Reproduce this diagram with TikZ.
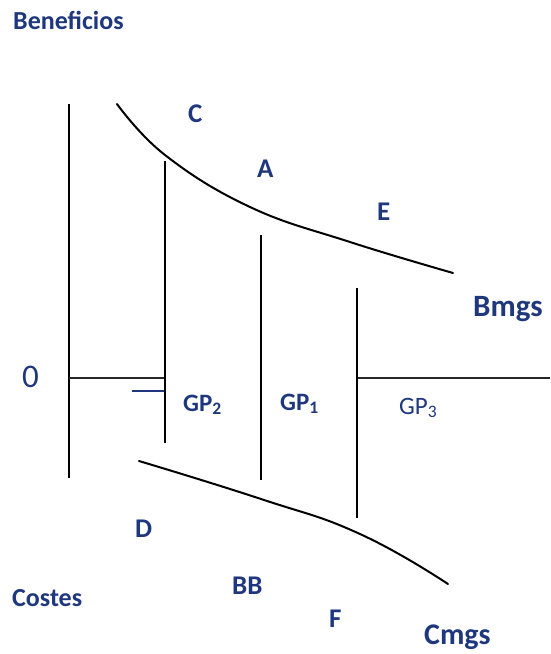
\documentclass[tikz,border=0pt]{standalone}
\usepackage{fontspec}
\setmainfont{Carlito}
\definecolor{lblue}{RGB}{30,55,125}
\begin{document}
\begin{tikzpicture}[x=1pt,y=-1pt,
  lbl/.style={anchor=base west,inner sep=0pt,text=lblue,font=\bfseries\fontsize{27}{27}\selectfont},
  lblr/.style={anchor=base west,inner sep=0pt,text=lblue,font=\fontsize{25}{25}\selectfont},
  axis/.style={line width=2pt,black},
  curve/.style={line width=2pt,black,line cap=round}]
\useasboundingbox (0,0) rectangle (550,654);
% labels
\node[lbl,font=\bfseries\fontsize{26}{26}\selectfont] (ben) at (13,29) {Beneficios};
\node[lbl] (c) at (188,122) {C};
\node[lbl] (a) at (257,177) {A};
\node[lbl] (e) at (377,220) {E};
\node[lbl,font=\bfseries\fontsize{31}{31}\selectfont] (bmgs) at (473,316) {Bmgs};
\node[lblr,font=\fontsize{33}{33}\selectfont] (zero) at (22,387) {0};
\node[lbl,font=\bfseries\fontsize{25}{25}\selectfont] (gp2) at (183,411) {GP\textsubscript{2}};
\node[lbl,font=\bfseries\fontsize{25}{25}\selectfont] (gp1) at (280,410) {GP\textsubscript{1}};
\node[lblr] (gp3) at (399,414) {GP\textsubscript{3}};
\node[lbl] (d) at (135,537) {D};
\node[lbl] (bb) at (232,594) {BB};
\node[lbl] (f) at (329,627) {F};
\node[lbl,font=\bfseries\fontsize{26}{26}\selectfont] (costes) at (12,606) {Costes};
\node[lbl,font=\bfseries\fontsize{30}{30}\selectfont] (cmgs) at (424,644) {Cmgs};
% axes and lines
\coordinate (vtop) at (69,104);
\coordinate (vbot) at (69,478);
\draw[axis] (vtop) -- (vbot);
\coordinate (hl1) at (69,378);
\coordinate (hl2) at (165,378);
\draw[line width=1.6pt,black!85] (hl1) -- (hl2);
\coordinate (hr1) at (357,378);
\coordinate (hr2) at (550,378);
\draw[line width=1.6pt,black!85] (hr1) -- (hr2);
\coordinate (bd1) at (132,391);
\coordinate (bd2) at (165,391);
\draw[line width=1.6pt,lblue] (bd1) -- (bd2);
\coordinate (g2t) at (165,161);
\coordinate (g2b) at (165,443);
\draw[axis] (g2t) -- (g2b);
\coordinate (g1t) at (261,235);
\coordinate (g1b) at (261,480);
\draw[axis] (g1t) -- (g1b);
\coordinate (g3t) at (357,288);
\coordinate (g3b) at (357,518);
\draw[axis] (g3t) -- (g3b);
% curves
\draw[curve] plot[smooth,tension=0.7] coordinates {(117,104) (165,155) (250,207) (350,242) (453,273)};
\draw[curve] plot[smooth,tension=0.8] coordinates {(139,461) (261,499) (360,534) (448,584)};
\end{tikzpicture}
\end{document}
